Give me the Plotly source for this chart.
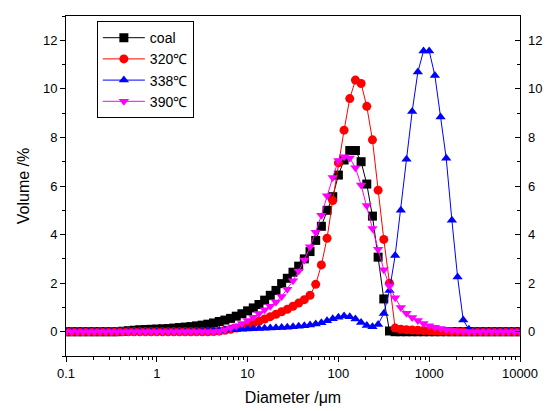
import plotly.graph_objects as go

diameter = [0.1, 0.1155, 0.1334, 0.154, 0.1778, 0.2054, 0.2371, 0.2738, 0.3162, 0.3652, 0.4217, 0.487, 0.5623, 0.6494, 0.7499, 0.866,
            1, 1.155, 1.334, 1.54, 1.778, 2.054, 2.371, 2.738, 3.162, 3.652, 4.217, 4.87, 5.623, 6.494, 7.499, 8.66,
            10, 11.55, 13.34, 15.4, 17.78, 20.54, 23.71, 27.38, 31.62, 36.52, 42.17, 48.7, 56.23, 64.94, 74.99, 86.6,
            100, 115.5, 133.4, 154, 177.8, 205.4, 237.1, 273.8, 316.2, 365.2, 421.7, 487, 562.3, 649.4, 749.9, 866,
            1000, 1155, 1334, 1540, 1778, 2054, 2371, 2738, 3162, 3652, 4217, 4870, 5623, 6494, 7499, 8660, 10000]

coal = [0, 0, 0, 0, 0, 0, 0, 0, 0, 0,
        0.02, 0.04, 0.06, 0.08, 0.09, 0.1, 0.11, 0.12, 0.13, 0.15,
        0.17, 0.19, 0.21, 0.24, 0.27, 0.31, 0.36, 0.42, 0.48, 0.55,
        0.64, 0.74, 0.86, 0.98, 1.12, 1.3, 1.5, 1.7, 1.98, 2.2,
        2.45, 2.7, 3.0, 3.3, 3.76, 4.34, 5.0, 5.56, 6.45, 7.07,
        7.46, 7.46, 7.0, 6.08, 4.76, 3.07, 1.35, 0.03, 0, 0,
        0, 0, 0, 0, 0, 0, 0, 0, 0, 0,
        0, 0, 0, 0, 0, 0, 0, 0, 0, 0, 0]

t320 = [0, 0, 0, 0, 0, 0, 0, 0, 0, 0,
        0, 0, 0, 0, 0, 0, 0, 0, 0, 0,
        0, 0, 0, 0, 0, 0, 0.01, 0.03, 0.06, 0.1,
        0.15, 0.21, 0.28, 0.35, 0.43, 0.52, 0.62, 0.72, 0.82, 0.92,
        1.05, 1.18, 1.32, 1.5, 1.95, 2.75, 3.85, 5.4, 6.95, 8.3,
        9.6, 10.36, 10.22, 9.28, 7.9, 5.83, 3.8, 2.0, 0.15, 0.1,
        0.08, 0.07, 0.06, 0.05, 0.04, 0.03, 0.02, 0.01, 0, 0,
        0, 0, 0, 0, 0, 0, 0, 0, 0, 0, 0]

t338 = [0, 0, 0, 0, 0, 0, 0, 0, 0, 0,
        0, 0, 0, 0, 0, 0, 0, 0, 0, 0,
        0, 0, 0, 0.02, 0.03, 0.04, 0.05, 0.06, 0.07, 0.08,
        0.09, 0.1, 0.11, 0.12, 0.13, 0.14, 0.15, 0.16, 0.17, 0.18,
        0.2, 0.22, 0.25, 0.28, 0.32, 0.37, 0.45, 0.53, 0.6, 0.65,
        0.62, 0.52, 0.38, 0.26, 0.2, 0.3, 0.75, 1.7, 3.14, 5.0,
        7.1, 9.07, 10.69, 11.56, 11.56, 10.55, 8.84, 7.14, 4.59, 2.25,
        0.48, 0.1, 0, 0, 0, 0, 0, 0, 0, 0, 0]

t390 = [0, 0, 0, 0, 0, 0, 0, 0, 0, 0,
        0, 0, 0, 0, 0, 0, 0, 0, 0, 0,
        0, 0, 0, 0, 0, 0, 0, 0.02, 0.08, 0.15,
        0.24, 0.34, 0.46, 0.6, 0.75, 0.9, 1.05, 1.22, 1.45, 1.75,
        2.1, 2.5, 2.95, 3.5, 4.1, 4.8, 5.6, 6.35, 7.05, 7.2,
        7.15, 6.75, 6.04, 5.2, 4.25, 3.4, 2.55, 1.88, 1.4, 1.0,
        0.76, 0.59, 0.46, 0.34, 0.25, 0.18, 0.13, 0.08, 0.05, 0.03,
        0.02, 0, 0, 0, 0, 0, 0, 0, 0, 0, 0]

x_tickvals = [0.1, 1, 10, 100, 1000, 10000]
x_ticktext = ["0.1", "1", "10", "100", "1000", "10000"]
y_tickvals = [0, 2, 4, 6, 8, 10, 12]

series = [
    ("coal", coal, "black", "square"),
    ("320℃", t320, "#ff0000", "circle"),
    ("338℃", t338, "#0000ff", "triangle-up"),
    ("390℃", t390, "#ff00ff", "triangle-down"),
]

FONT = "Arial, 'Liberation Sans', sans-serif"

fig = go.Figure()
for name, vals, color, sym in series:
    fig.add_trace(go.Scatter(
        x=diameter, y=vals, name=name, mode="lines+markers",
        line=dict(color=color, width=1),
        marker=dict(symbol=sym, size=9, color=color),
    ))
# invisible trace on right axis for mirrored labels
fig.add_trace(go.Scatter(x=[diameter[0]], y=[0], yaxis="y2", showlegend=False,
                         mode="markers", marker=dict(opacity=0), hoverinfo="skip"))

fig.update_layout(
    width=546, height=411,
    margin=dict(l=66, r=26, t=16, b=55, autoexpand=False),
    paper_bgcolor="white", plot_bgcolor="white",
    font=dict(family=FONT, size=13, color="black"),
    showlegend=True,
    legend=dict(x=0.068, y=0.985, xanchor="left", yanchor="top",
                bordercolor="black", borderwidth=1, bgcolor="white",
                font=dict(size=14, family=FONT), tracegroupgap=0, itemwidth=42),
    xaxis=dict(type="log", range=[-1, 4], tickvals=x_tickvals, ticktext=x_ticktext,
               ticks="outside", ticklen=5, tickwidth=1, tickcolor="black",
               showline=True, linecolor="black", linewidth=1, mirror=True,
               showgrid=False, zeroline=False, automargin=False,
               minor=dict(ticks="outside", ticklen=3, dtick="D1", tickcolor="black", showgrid=False),
               title=dict(text="Diameter /μm", font=dict(size=16), standoff=12),
               tickfont=dict(size=13)),
    yaxis=dict(range=[-1, 13], tickvals=y_tickvals,
               ticks="outside", ticklen=5, tickwidth=1, tickcolor="black",
               showline=True, linecolor="black", linewidth=1, mirror=True,
               showgrid=False, zeroline=False, automargin=False,
               minor=dict(ticks="outside", ticklen=3, dtick=1, tickcolor="black", showgrid=False),
               title=dict(text="Volume /%", font=dict(size=16), standoff=9),
               tickfont=dict(size=13)),
    yaxis2=dict(range=[-1, 13], tickvals=y_tickvals, overlaying="y", side="right",
                ticks="inside", ticklen=5, tickwidth=1, tickcolor="black",
                showline=False, showgrid=False, zeroline=False, automargin=False,
                ticklabelstandoff=7,
                minor=dict(ticks="inside", ticklen=3, dtick=1, tickcolor="black", showgrid=False),
                tickfont=dict(size=13)),
)

fig.write_html("out.html")
